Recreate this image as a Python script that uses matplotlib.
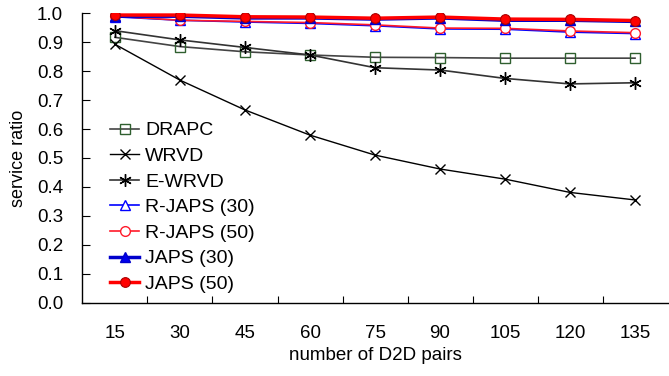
import matplotlib
matplotlib.use("Agg")
import matplotlib.pyplot as plt
import numpy as np

plt.rcParams['font.family'] = ['Liberation Sans', 'DejaVu Sans']

pairs = [15, 30, 45, 60, 75, 90, 105, 120, 135]
drapc = [0.917, 0.885, 0.867, 0.856, 0.848, 0.847, 0.845, 0.845, 0.845]
wrvd = [0.893, 0.769, 0.666, 0.579, 0.510, 0.462, 0.427, 0.381, 0.355]
ewrvd = [0.940, 0.908, 0.882, 0.856, 0.812, 0.804, 0.775, 0.756, 0.760]
rjaps30 = [0.988, 0.976, 0.970, 0.965, 0.957, 0.946, 0.945, 0.935, 0.930]
rjaps50 = [0.990, 0.976, 0.972, 0.968, 0.960, 0.949, 0.948, 0.939, 0.933]
japs30 = [0.990, 0.990, 0.984, 0.984, 0.980, 0.984, 0.976, 0.976, 0.972]
japs50 = [0.994, 0.994, 0.988, 0.987, 0.983, 0.987, 0.980, 0.979, 0.975]

fig = plt.figure(figsize=(6.69, 3.76), dpi=100)
ax = fig.add_axes([0.1233, 0.195, 0.8745, 0.7696])

xs = np.arange(len(pairs))

ax.plot(xs, drapc, color='#444444', lw=1.2, marker='s', ms=6.5, mfc='none',
        mec='#2f5f2f', mew=1.0, label='DRAPC')
ax.plot(xs, wrvd, color='black', lw=1.0, marker='x', ms=7.5, mew=1.0,
        label='WRVD')
ax.plot(xs, ewrvd, color='#333333', lw=1.2, marker=(6, 2, 0), ms=9,
        mec='black', mew=1.0, label='E-WRVD')
ax.plot(xs, rjaps30, color='#0000ff', lw=1.2, marker='^', ms=7, mfc='white',
        mec='#0000ff', mew=1.0, label='R-JAPS (30)')
ax.plot(xs, rjaps50, color='#ff1a2a', lw=1.2, marker='o', ms=7, mfc='white',
        mec='#ff1a2a', mew=1.0, label='R-JAPS (50)')
ax.plot(xs, japs30, color='#0000cc', lw=2.5, marker='^', ms=7, mfc='#0000ee',
        mec='#0000cc', label='JAPS (30)')
ax.plot(xs, japs50, color='#ff0000', lw=2.5, marker='o', ms=7, mfc='#ff0000',
        mec='#aa0000', mew=0.8, label='JAPS (50)')

ax.set_xlim(-0.5, len(pairs) - 0.5)
ax.set_ylim(0, 1.0)
ax.set_yticks(np.arange(0, 1.01, 0.1))
ax.set_yticklabels([f'{v:.1f}' for v in np.arange(0, 1.01, 0.1)])
ax.set_xticks(xs)
ax.set_xticklabels([str(p) for p in pairs])
ax.set_xticks(np.arange(0.5, len(pairs) - 1, 1), minor=True)
ax.tick_params(axis='x', which='major', length=0, pad=16, labelsize=13.5)
ax.tick_params(axis='x', which='minor', direction='in', length=5, width=0.8)
ax.tick_params(axis='y', direction='in', length=6, width=0.8, labelsize=13.5, pad=14)

for s in ['top', 'right']:
    ax.spines[s].set_visible(False)
for s in ['left', 'bottom']:
    ax.spines[s].set_linewidth(1.0)

ax.set_xlabel('number of D2D pairs', fontsize=13.5, labelpad=4)
ax.set_ylabel('service ratio', fontsize=13, labelpad=7)

ax.legend(loc='upper left', bbox_to_anchor=(0.034, 0.652), frameon=False,
          fontsize=14, handlelength=1.5, handletextpad=0.3, labelspacing=0.41,
          borderaxespad=0)

fig.savefig('out.png', dpi=100)
